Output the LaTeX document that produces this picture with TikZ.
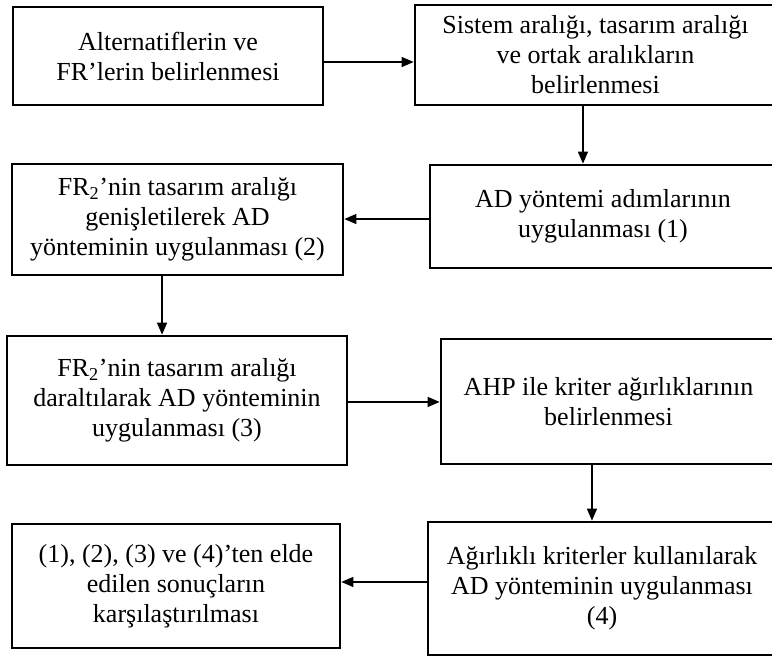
\documentclass[tikz,border=0pt]{standalone}
\usepackage{fontspec}
\setmainfont{Liberation Serif}
\usetikzlibrary{arrows.meta}

\begin{document}
\begin{tikzpicture}[x=0.75pt, y=-0.75pt,
  box/.style={draw, line width=2pt, inner sep=0pt, align=center,
    font=\fontsize{19.5}{22.5}\selectfont},
  arr/.style={line width=1pt, -{Triangle[length=9pt,width=7.5pt]}}]
\fill[white] (0,0) rectangle (772,660);
\useasboundingbox (0,0) rectangle (772,660);
% first row
\node[box, minimum width=232.5pt, minimum height=73.5pt] (alt) at (168,56)
  {Alternatiflerin ve\\FR’lerin belirlenmesi};
\node[box, minimum width=270.75pt, minimum height=75pt] (sis) at (595.5,55)
  {Sistem aralığı, tasarım aralığı\\ve ortak aralıkların\\belirlenmesi};
% second row
\node[box, minimum width=259.5pt, minimum height=77.25pt] (adm) at (603,216.5)
  {AD yöntemi adımlarının\\uygulanması (1)};
\node[box, minimum width=248.25pt, minimum height=83.25pt] (gen) at (177.5,219.5)
  {FR\textsubscript{2}’nin tasarım aralığı\\genişletilerek AD\\yönteminin uygulanması (2)};
% third row
\node[box, minimum width=255pt, minimum height=96.75pt] (dar) at (177,400.5)
  {FR\textsubscript{2}’nin tasarım aralığı\\daraltılarak AD yönteminin\\uygulanması (3)};
\node[box, minimum width=251.25pt, minimum height=93.75pt] (ahp) at (608.5,401.5)
  {AHP ile kriter ağırlıklarının\\belirlenmesi};
% last row
\node[box, minimum width=261pt, minimum height=99.75pt] (agr) at (602,588.5)
  {Ağırlıklı kriterler kullanılarak\\AD yönteminin uygulanması\\(4)};
\node[box, minimum width=246pt, minimum height=93pt] (kar) at (176,586)
  {(1), (2), (3) ve (4)’ten elde\\edilen sonuçların\\karşılaştırılması};
% arrows
\draw[arr] ([yshift=-4.5pt]alt.east) -- ([yshift=-4.5pt]alt.east -| sis.west);
\draw[arr] ([xshift=-9.4pt]sis.south) -- ([xshift=-9.4pt]sis.south |- adm.north);
\draw[arr] ([yshift=-1.9pt]adm.west) -- ([yshift=-1.9pt]adm.west -| gen.east);
\draw[arr] ([xshift=-11.6pt]gen.south) -- ([xshift=-11.6pt]gen.south |- dar.north);
\draw[arr] ([yshift=-1.1pt]dar.east) -- ([yshift=-1.1pt]dar.east -| ahp.west);
\draw[arr] ([xshift=-12.4pt]ahp.south) -- ([xshift=-12.4pt]ahp.south |- agr.north);
\draw[arr] ([yshift=4.9pt]agr.west) -- ([yshift=4.9pt]agr.west -| kar.east);
\end{tikzpicture}
\end{document}
